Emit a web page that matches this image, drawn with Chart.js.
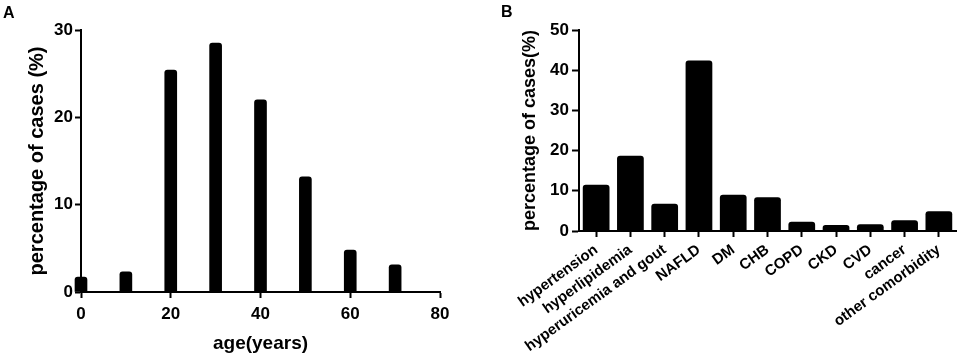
<!DOCTYPE html>
<html>
<head>
<meta charset="utf-8">
<script src="https://cdn.jsdelivr.net/npm/chart.js@4/dist/chart.umd.min.js"></script>
<style>
    html, body { margin: 0; padding: 0; background: #fff; }
    body { width: 957px; height: 363px; position: relative; overflow: hidden; font-family: 'Liberation Sans', Arial, sans-serif; }
    .panel { position: absolute; top: 0; height: 363px; }
    .panel-tag { position: absolute; font-weight: bold; font-size: 16px; color: #000; }
</style>
</head>
<body>
<div class="panel" style="left:0; width:470px;"><canvas id="ageChart"></canvas></div>
<div class="panel" style="left:470px; width:487px;"><canvas id="comorbChart"></canvas></div>
<div class="panel-tag" style="left:3px; top:4px;">A</div>
<div class="panel-tag" style="left:501px; top:3px;">B</div>
<script>
// panel A: age distribution
const ageYears = [0, 10, 20, 30, 40, 50, 60, 70];
const ageShare = [1.7, 2.3, 25.4, 28.5, 22.0, 13.2, 4.8, 3.1];

// panel B: comorbidities
const comorbLabels = ['hypertension', 'hyperlipidemia', 'hyperuricemia and gout', 'NAFLD', 'DM', 'CHB',
    'COPD', 'CKD', 'CVD', 'cancer', 'other comorbidity'];
const comorbShare = [11.5, 18.7, 6.8, 42.4, 9.0, 8.4, 2.3, 1.5, 1.7, 2.7, 4.9];

const FONT = "'Liberation Sans', Arial, sans-serif";
Chart.defaults.font.family = FONT;
Chart.defaults.font.weight = 'bold';
Chart.defaults.color = '#000';

// axis look shared by both panels: black 2px line, outward ticks, no grid
const axisGrid = (len) => ({
    display: true,
    drawOnChartArea: false,
    drawTicks: true,
    tickLength: len,
    tickWidth: 2,
    tickColor: '#000',
    offset: false
});
const axisBorder = { display: true, color: '#000', width: 2 };

new Chart(document.getElementById('ageChart'), {
    type: 'bar',
    data: {
        datasets: [{
            data: ageYears.map((x, i) => ({ x: x, y: ageShare[i] })),
            backgroundColor: '#000',
            borderRadius: 3,
            barThickness: 12,
            clip: false
        }]
    },
    options: {
        responsive: true,
        maintainAspectRatio: false,
        animation: false,
        layout: { padding: { top: 30, right: 30, left: 0, bottom: 0 } },
        plugins: { legend: { display: false }, tooltip: { enabled: false } },
        scales: {
            x: {
                type: 'linear',
                min: 0,
                max: 80,
                offset: false,
                grid: axisGrid(6),
                border: axisBorder,
                ticks: { stepSize: 20, font: { size: 17, weight: 'bold' }, padding: 6 },
                title: { display: true, text: 'age(years)', font: { size: 19, weight: 'bold' }, padding: { top: 0, bottom: 8 } },
                afterFit: (s) => { s.height = 71; }
            },
            y: {
                min: 0,
                max: 30,
                grid: axisGrid(6),
                border: axisBorder,
                ticks: { stepSize: 10, font: { size: 17, weight: 'bold' }, padding: 2 },
                title: { display: true, text: 'percentage of cases (%)', font: { size: 20, weight: 'bold' }, padding: { top: 25, bottom: 0 } },
                afterFit: (s) => { s.width = 81; }
            }
        }
    }
});

new Chart(document.getElementById('comorbChart'), {
    type: 'bar',
    data: {
        labels: comorbLabels,
        datasets: [{
            data: comorbShare,
            backgroundColor: '#000',
            borderRadius: 3,
            categoryPercentage: 1,
            barPercentage: 0.78
        }]
    },
    options: {
        responsive: true,
        maintainAspectRatio: false,
        animation: false,
        layout: { padding: { top: 30, right: 1, left: 0, bottom: 0 } },
        plugins: { legend: { display: false }, tooltip: { enabled: false } },
        scales: {
            x: {
                grid: axisGrid(6),
                border: axisBorder,
                ticks: { autoSkip: false, minRotation: 36, maxRotation: 36, font: { size: 15, weight: 'bold' }, padding: 4 },
                afterFit: (s) => { s.height = 132; }
            },
            y: {
                min: 0,
                max: 50,
                grid: axisGrid(7),
                border: axisBorder,
                ticks: { stepSize: 10, font: { size: 17, weight: 'bold' }, padding: 3 },
                title: { display: true, text: 'percentage of cases(%)', font: { size: 18, weight: 'bold' }, padding: { top: 49, bottom: 0 } },
                afterFit: (s) => { s.width = 109; }
            }
        }
    }
});
</script>
</body>
</html>
